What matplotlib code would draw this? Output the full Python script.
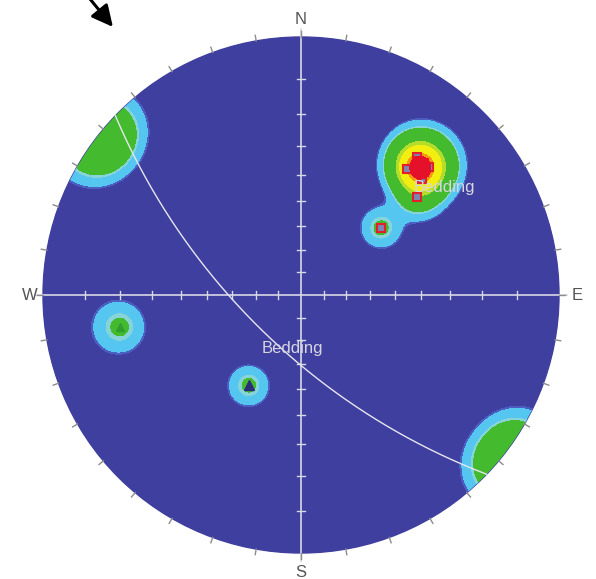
import numpy as np
import matplotlib
matplotlib.use('Agg')
from matplotlib import pyplot as plt
from matplotlib.patches import Circle

plt.rcParams['font.family'] = ['Liberation Sans', 'DejaVu Sans']

# ---- pole data (trend, plunge in degrees) ----
# square symbols, bedding set
sq_trend = [40, 40, 45, 50, 50, 43, 45, 46, 41, 43]
sq_plunge = [20, 25, 20, 29, 46, 22, 22, 24, 21, 20]
# triangle symbols
tri_green_trend = [260]
tri_green_plunge = [19]
tri_blue_trend = [210]
tri_blue_plunge = [46]
# near-horizontal poles (no symbol shown)
edge_trend = [305, 308, 311]
edge_plunge = [1, 2, 1]

# mean bedding plane
bed_dipdir = 224
bed_dip = 67

kappa = 126
levels = [0.30, 0.36, 0.75, 0.88, 2.8, 3.6, 5.4, 6.0]
band_colors = ['#3f3fa0', '#4d5ec2', '#55c6f0', '#86d4d8', '#44bb2e',
               '#b4dc2a', '#f2ee10', '#f59a10', '#e5102a']


def proj(trend, plunge):
    # equal angle, lower hemisphere, unit radius
    t = np.radians(trend)
    p = np.radians(plunge)
    r = np.tan((np.pi / 2 - p) / 2)
    return r * np.sin(t), r * np.cos(t)


def vec(trend, plunge):
    t = np.radians(np.asarray(trend, float))
    p = np.radians(np.asarray(plunge, float))
    return np.stack([np.cos(p) * np.cos(t), np.cos(p) * np.sin(t), np.sin(p)], axis=-1)


fig = plt.figure(figsize=(5.96, 5.79), dpi=100)
ax = fig.add_axes([0, 0, 1, 1])
R_px = 258
ax.set_xlim(-301 / R_px, 295 / R_px)
ax.set_ylim(-284 / R_px, 295 / R_px)
ax.axis('off')

# ---- density grid ----
g = np.linspace(-1.05, 1.05, 601)
X, Y = np.meshgrid(g, g)
Rg = np.hypot(X, Y)
gpl = 90 - np.degrees(2 * np.arctan(Rg))
gtr = np.degrees(np.arctan2(X, Y))
G = vec(gtr, gpl)

all_tr = sq_trend + tri_green_trend + tri_blue_trend + edge_trend
all_pl = sq_plunge + tri_green_plunge + tri_blue_plunge + edge_plunge
P = vec(all_tr, all_pl)
dens = np.zeros_like(X)
for pv in P:
    c = np.abs(G @ pv)
    dens += np.exp(kappa * (c - 1))

bounds = [-1] + levels + [1e6]
clip = Circle((0, 0), 1.0, transform=ax.transData)
ax.add_patch(Circle((0, 0), 1.0, color=band_colors[0], zorder=0))
cf = ax.contourf(X, Y, dens, levels=bounds, colors=band_colors, zorder=1)
cf.set_clip_path(clip)
# top band drawn again over the symbols
cf2 = ax.contourf(X, Y, dens, levels=[levels[-1], 1e6], colors=[band_colors[-1]], zorder=4)
cf2.set_clip_path(Circle((0, 0), 1.0, transform=ax.transData))

# ---- net frame ----
lc = '#d8d8e6'
ax.plot([-1.03, 1.03], [0, 0], color=lc, lw=1.2, zorder=3)
ax.plot([0, 0], [-1.03, 1.03], color=lc, lw=1.2, zorder=3)
tl = 0.016
for pl in range(10, 90, 10):
    r = np.tan(np.radians(90 - pl) / 2)
    for s in (-1, 1):
        ax.plot([s * r, s * r], [-tl, tl], color=lc, lw=1, zorder=3)
        ax.plot([-tl, tl], [s * r, s * r], color=lc, lw=1, zorder=3)
for az in range(0, 360, 10):
    a = np.radians(az)
    ax.plot([np.sin(a), 1.022 * np.sin(a)], [np.cos(a), 1.022 * np.cos(a)],
            color='#8c8c8c', lw=1, zorder=3)

lab = dict(color='#555555', fontsize=12, ha='center', va='center')
ax.text(0, 1.066, 'N', **lab)
ax.text(0, -1.074, 'S', **lab)
ax.text(-1.05, 0, 'W', **lab)
ax.text(1.07, 0, 'E', **lab)

# ---- bedding great circle ----
strike = bed_dipdir - 90
rake = np.radians(np.linspace(0, 180, 361))
sv = vec(strike, 0)
dv = vec(bed_dipdir, bed_dip)
v = np.outer(np.cos(rake), sv) + np.outer(np.sin(rake), dv)
gc_pl = np.degrees(np.arcsin(np.clip(v[:, 2], -1, 1)))
gc_tr = np.degrees(np.arctan2(v[:, 1], v[:, 0]))
gx, gy = proj(gc_tr, gc_pl)
ax.plot(gx, gy, color='#e6e6ee', lw=1, zorder=3)
ax.text(-0.151, -0.209, 'Bedding', color='#d6d6e0', fontsize=12, ha='left', va='center', zorder=6)

px, py = proj(bed_dipdir - 180, 90 - bed_dip)
ax.annotate('Bedding', (px, py), xytext=(-6, -8), textcoords='offset pixels',
            color='#d6d6e0', fontsize=12, ha='left', va='top', zorder=6)

# ---- pole symbols ----
x, y = proj(np.array(sq_trend), np.array(sq_plunge))
ax.plot(x, y, 's', ms=6, mfc='#7a86b4', mec='#e41e2a', mew=1.5, zorder=3.5)
x, y = proj(np.array(tri_green_trend), np.array(tri_green_plunge))
ax.plot(x, y, '^', ms=6, color='#2f9e2f', zorder=3.5)
x, y = proj(np.array(tri_blue_trend), np.array(tri_blue_plunge))
ax.plot(x, y, '^', ms=7, color='#2c2c7a', zorder=3.5)

# north arrow
ax.annotate('', xy=(-0.729, 1.039), xytext=(-0.82, 1.15),
            arrowprops=dict(arrowstyle='-|>', color='black', lw=2.2, mutation_scale=32,
                            shrinkA=0, shrinkB=0))

fig.savefig('out.png', dpi=100, facecolor='white')
